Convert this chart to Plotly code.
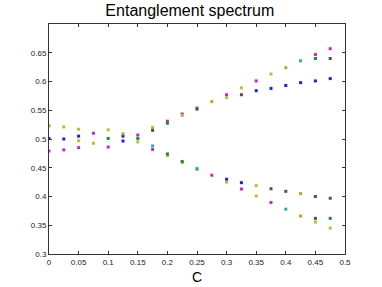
import plotly.graph_objects as go

# Data (c, eigenvalue), grouped by marker colour
blue_c = [0, 0.025, 0.05, 0.125, 0.125, 0.3, 0.325, 0.35, 0.375, 0.4, 0.425, 0.45, 0.475]
blue_y = [0.501, 0.500, 0.505, 0.505, 0.4965, 0.430, 0.424, 0.584, 0.588, 0.593, 0.598, 0.601, 0.605]

magenta_c = [0, 0.025, 0.05, 0.075, 0.1, 0.15, 0.175, 0.2, 0.225, 0.275, 0.3, 0.325, 0.35, 0.375, 0.45, 0.475]
magenta_y = [0.479, 0.481, 0.485, 0.510, 0.486, 0.507, 0.482, 0.531, 0.5435, 0.437, 0.577, 0.413, 0.601, 0.3895, 0.647, 0.657]

olive_c = [0.025, 0.05, 0.05, 0.075, 0.1, 0.15, 0.175, 0.2, 0.225, 0.225, 0.25, 0.3, 0.3, 0.325, 0.35, 0.35, 0.375, 0.45, 0.475]
olive_y = [0.521, 0.517, 0.497, 0.4925, 0.516, 0.495, 0.520, 0.471, 0.541, 0.459, 0.447, 0.572, 0.425, 0.589, 0.419, 0.401, 0.613, 0.3556, 0.345]

orange_c = [0, 0.125, 0.275, 0.4, 0.425, 0.425]
orange_y = [0.523, 0.509, 0.565, 0.624, 0.405, 0.366]

green_c = [0.1, 0.15, 0.2, 0.2, 0.225, 0.45, 0.475]
green_y = [0.501, 0.501, 0.5275, 0.474, 0.461, 0.640, 0.362]

cyan_c = [0.175, 0.25, 0.25, 0.4, 0.425]
cyan_y = [0.488, 0.554, 0.4486, 0.378, 0.636]

dark_c = [0.175, 0.25, 0.325, 0.375, 0.4, 0.45, 0.45, 0.475, 0.475]
dark_y = [0.515, 0.552, 0.577, 0.4135, 0.409, 0.400, 0.362, 0.640, 0.397]

series = [
    (blue_c, blue_y, "#1a1aff"),
    (magenta_c, magenta_y, "#cc22cc"),
    (olive_c, olive_y, "#b5c22a"),
    (orange_c, orange_y, "#c8a018"),
    (green_c, green_y, "#1a8a3a"),
    (cyan_c, cyan_y, "#20b0b8"),
    (dark_c, dark_y, "#5a4a50"),
]

x_ticks = [0, 0.05, 0.1, 0.15, 0.2, 0.25, 0.3, 0.35, 0.4, 0.45, 0.5]
x_labels = ["0", "0.05", "0.1", "0.15", "0.2", "0.25", "0.3", "0.35", "0.4", "0.45", "0.5"]
y_ticks = [0.3, 0.35, 0.4, 0.45, 0.5, 0.55, 0.6, 0.65]
y_labels = ["0.3", "0.35", "0.4", "0.45", "0.5", "0.55", "0.6", "0.65"]

FONT = "Liberation Sans, Arial, sans-serif"

fig = go.Figure()
for cx, cy, col in series:
    fig.add_trace(go.Scatter(
        x=cx, y=cy, mode="markers",
        marker=dict(symbol="square", size=3, color=col, line=dict(width=0)),
        showlegend=False, hoverinfo="skip",
    ))

axis_common = dict(
    showline=True, linecolor="#333333", linewidth=1, mirror="ticks",
    ticks="inside", ticklen=3, tickcolor="#333333", tickwidth=1,
    showgrid=False, zeroline=False, automargin=False,
    tickfont=dict(family=FONT, size=8, color="#222222"),
)

fig.update_layout(
    width=382, height=287,
    margin=dict(l=49, r=37, t=24, b=33),
    paper_bgcolor="white", plot_bgcolor="white",
    hovermode=False,
    title=dict(text="Entanglement spectrum", x=0.497, xanchor="center",
               yref="container", y=1 - 10 / 287, yanchor="middle", automargin=False,
               font=dict(family=FONT, size=16, color="#000000")),
    xaxis=dict(range=[0, 0.5], tickvals=x_ticks, ticktext=x_labels,
               title=dict(text="C", standoff=6,
                          font=dict(family=FONT, size=14, color="#000000")),
               **axis_common),
    yaxis=dict(range=[0.3, 0.7], tickvals=y_ticks, ticktext=y_labels, **axis_common),
)

fig.write_html(
    "out.html",
    config={"displayModeBar": False, "staticPlot": True},
    post_script="document.body.style.margin='0';document.body.style.overflow='hidden';",
)
